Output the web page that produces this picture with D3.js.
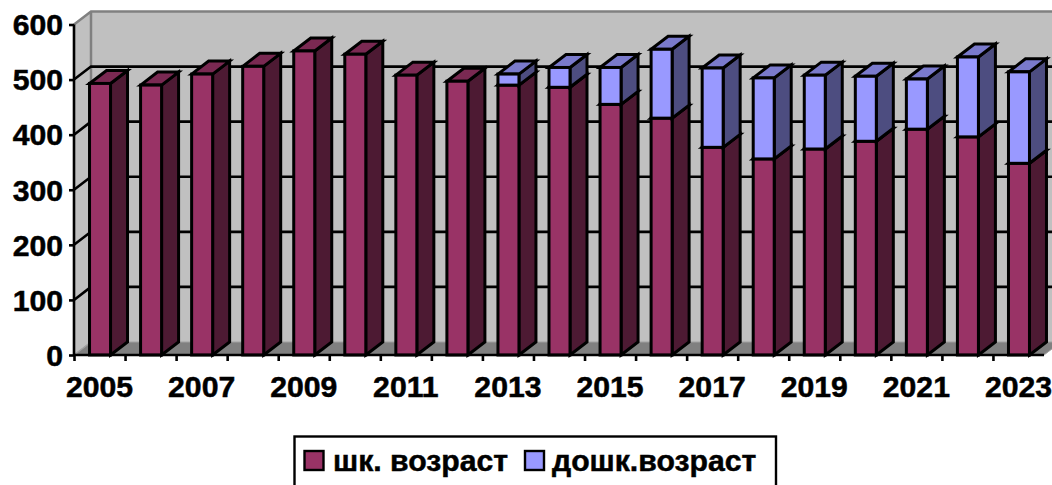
<!DOCTYPE html>
<html><head><meta charset="utf-8">
<script src="https://cdn.jsdelivr.net/npm/d3@7"></script>
<style>html,body{margin:0;padding:0;background:#fff}svg{display:block}
text{font-family:"Liberation Sans",Arial,sans-serif;font-weight:700;fill:#000;stroke:#000;stroke-width:0.5px}</style></head>
<body><svg id="c" width="1052" height="485"></svg>
<script>
const years=[2005,2006,2007,2008,2009,2010,2011,2012,2013,2014,2015,2016,2017,2018,2019,2020,2021,2022,2023];
const school=[493,490,510,524,552,546,508,497,490,486,455,430,377,356,374,388,410,396,348];
const preschool=[0,0,0,0,0,0,0,0,20,36,67,125,144,147,134,118,91,145,166];
const yTicks=[0,100,200,300,400,500,600];
const seriesNames=["шк. возраст","дошк.возраст"];
const frontColors=["#993366","#9999ff"],sideColors=["#4d1a33","#4d4d80"],topColors=["#7a2952","#7a7acc"];
const W=1052,H=485,x0=74,x1=1044,yTop=24.5,yBase=355,dx=17,dy=-13;
const svg=d3.select("#c");
const y=d3.scaleLinear().domain([0,600]).range([yBase,yTop]);
const xBand=d3.scaleBand().domain(years).range([x0,x1]);
const barW=21, barOff=(xBand.bandwidth()-barW)/2+0.5;
const poly=p=>p.map(d=>d.join(",")).join(" ");
// walls
svg.append("polygon").attr("points",poly([[x0+dx,yTop+dy],[W+5,yTop+dy],[W+5,yBase+dy],[x0+dx,yBase+dy]])).attr("fill","#c0c0c0");
svg.append("polygon").attr("points",poly([[x0,yTop],[x0+dx,yTop+dy],[x0+dx,yBase+dy],[x0,yBase]])).attr("fill","#c0c0c0");
svg.append("polygon").attr("points",poly([[x0,yBase],[x0+dx,yBase+dy],[x1+dx,yBase+dy],[x1,yBase]])).attr("fill","#808080").attr("stroke","#a0a0a0").attr("stroke-width",1);
svg.append("path").attr("d",`M${x0},${yTop}L${x0+dx},${yTop+dy}L${W+5},${yTop+dy}M${x0+dx},${yTop+dy}V${yBase+dy}`).attr("fill","none").attr("stroke","#808080").attr("stroke-width",2.5);
svg.append("path").attr("d",`M${x0},${yBase}L${x0+dx},${yBase+dy}`).attr("stroke","#a0a0a0").attr("stroke-width",1.5);
// gridlines
svg.append("g").selectAll("path").data(yTicks.filter(t=>t>0&&t<600)).join("path")
 .attr("d",t=>`M${x0},${y(t)}L${x0+dx},${y(t)+dy}H${W+5}`).attr("fill","none").attr("stroke","#000").attr("stroke-width",2.6);
// bars
const bars=svg.append("g").attr("stroke","#000").attr("stroke-width",3).attr("stroke-linejoin","miter");
years.forEach((yr,i)=>{
  const l=xBand(yr)+barOff,r=l+barW;
  let base=0;
  [school[i],preschool[i]].forEach((v,s)=>{
    if(v<=0)return;
    const a=y(base),b=y(base+v);
    bars.append("polygon").attr("points",poly([[r,a],[r+dx,a+dy],[r+dx,b+dy],[r,b]])).attr("fill",sideColors[s]);
    bars.append("polygon").attr("points",poly([[l,b],[l+dx,b+dy],[r+dx,b+dy],[r,b]])).attr("fill",topColors[s]);
    bars.append("rect").attr("x",l).attr("y",b).attr("width",barW).attr("height",a-b).attr("fill",frontColors[s]);
    base+=v;
  });
});
// axes
const yAx=d3.axisLeft(y).tickValues(yTicks).tickSize(5).tickPadding(5);
const gy=svg.append("g").attr("transform",`translate(${x0},0)`).call(yAx);
gy.select(".domain").attr("stroke-width",2.6).attr("d",`M0,${yTop}V${yBase}`);
gy.selectAll(".tick line").attr("stroke-width",2.6);
gy.selectAll("text").style("font-size","30.2px").attr("dy","0.34em").attr("x",-11);
const xIdx=d3.scaleLinear().domain([0,years.length]).range([x0,x1]);
const gx=svg.append("g").attr("transform",`translate(0,${yBase})`)
 .call(d3.axisBottom(xIdx).tickValues(d3.range(years.length)).tickSize(6).tickFormat(""));
gx.select(".domain").attr("stroke-width",2.6).attr("d",`M${x0},0H${x1}`);
gx.selectAll(".tick line").attr("stroke-width",2.6);
const gl=svg.append("g").attr("transform",`translate(0,${yBase})`)
 .call(d3.axisBottom(xBand).tickValues(years.filter((d,i)=>i%2===0)).tickSize(0).tickFormat(d3.format("d")));
gl.select(".domain").remove();
gl.selectAll("text").style("font-size","30.2px").attr("y",42).attr("dy",0);
// legend
const lg=svg.append("g");
lg.append("rect").attr("x",294.5).attr("y",436.5).attr("width",481.5).attr("height",60).attr("fill","#fff").attr("stroke","#000").attr("stroke-width",2.4);
[[304.5,333],[525,552]].forEach((p,i)=>{
  lg.append("rect").attr("x",p[0]).attr("y",451).attr("width",19).attr("height",19).attr("fill",frontColors[i]).attr("stroke","#000").attr("stroke-width",2.4);
  lg.append("text").attr("x",p[1]).attr("y",471).style("font-size","30.2px").text(seriesNames[i]);
});
</script></body></html>
